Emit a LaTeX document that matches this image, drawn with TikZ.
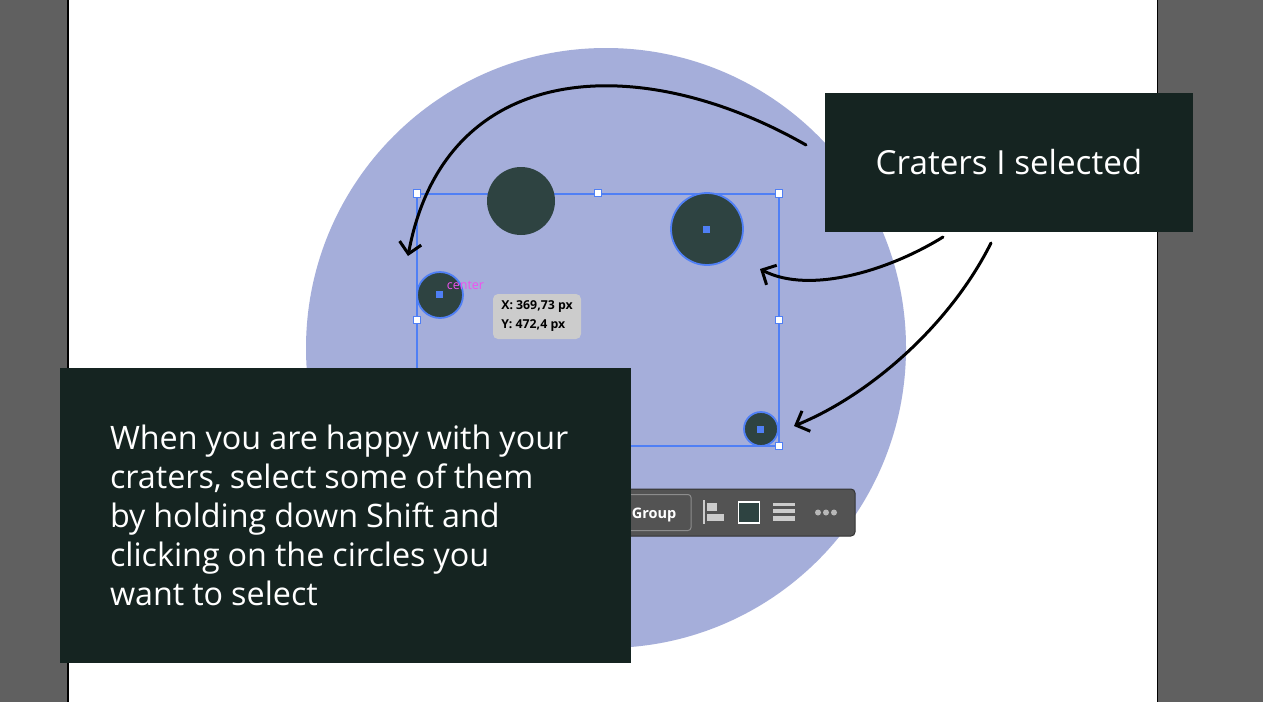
\documentclass[tikz,border=0pt]{standalone}
\usepackage{xcolor}
\usepackage{fontspec}
\setmainfont{Open Sans}
\usepackage{tikz}
\usetikzlibrary{arrows.meta, positioning}

\definecolor{panelgray}{HTML}{606060}
\definecolor{moonblue}{HTML}{A5AEDA}
\definecolor{craterfill}{HTML}{2E4341}
\definecolor{selectblue}{HTML}{4F7FF5}
\definecolor{labelblack}{HTML}{152421}
\definecolor{barfill}{HTML}{535353}
\definecolor{guidepink}{HTML}{F050F0}

\begin{document}
\begin{tikzpicture}[x=1pt, y=-1pt]
\tikzstyle{crater} = [circle, fill=craterfill, inner sep=0pt]
\tikzstyle{picked} = [crater, draw=selectblue, line width=1.8pt]
\tikzstyle{handle} = [rectangle, draw=selectblue, fill=white, line width=1.2pt, minimum size=7.5pt, inner sep=0pt]
\tikzstyle{dot} = [rectangle, fill=selectblue, minimum size=7pt, inner sep=0pt]
\tikzstyle{callout} = [rectangle, fill=labelblack, text=white, inner sep=0pt]
\tikzstyle{arrow} = [line width=3pt, line cap=round, -{Straight Barb[length=11pt, width=22pt, line width=3pt]}]
\tikzstyle{tool} = [rectangle, fill=black!20, inner sep=0pt]
\tikzstyle{tooldot} = [circle, fill=black!28, minimum size=6pt, inner sep=0pt]

\useasboundingbox (0,0) rectangle (1263,702);

% page and side panels
\fill[white] (0,0) rectangle (1263,702);
\fill[panelgray] (0,0) rectangle (68,702);
\fill[panelgray] (1158,0) rectangle (1263,702);
\draw[black, line width=1.5pt] (68,0) -- (68,702);
\draw[black, line width=1.5pt] (1157.5,0) -- (1157.5,702);

% moon
\node (moon) at (606,348) [circle, fill=moonblue, minimum size=600pt, inner sep=0pt] {};

% selection frame
\coordinate (frameNW) at (417,194);
\coordinate (frameSE) at (779,446);
\draw[selectblue, line width=1.4pt] (frameNW) rectangle (frameSE);

% craters
\node (craterA) at (521,201) [crater, minimum size=68pt] {};
\node (craterB) at (707,229) [picked, minimum size=72pt] {};
\node (craterC) at (440,295) [picked, minimum size=46pt] {};
\node (craterD) at (761,429) [picked, minimum size=34pt] {};
\node (dotB) at (706.5,229) [dot] {};
\node (dotC) at (439,294) [dot] {};
\node (dotD) at (760.5,429.5) [dot] {};

\node (hNW) at (417,193.5) [handle] {};
\node (hN) at (598,193) [handle] {};
\node (hNE) at (779,193.5) [handle] {};
\node (hW) at (417,320) [handle] {};
\node (hE) at (779,320) [handle] {};
\node (hSE) at (779,446) [handle] {};

% smart guide and tooltip
\node (center) at (465.5,285) [text=guidepink, font=\fontsize{12.5}{12.5}\selectfont, inner sep=0pt] {center};
\node (tooltip) at (537,316.5) [rectangle, rounded corners=5pt, fill=black!20, minimum width=88pt, minimum height=45pt, inner sep=0pt, align=left, font=\fontsize{12.3}{19}\selectfont\bfseries] {X: 369,73 px\\Y: 472,4 px};

% toolbar
\node (toolbar) at (727,512.5) [rectangle, rounded corners=4pt, fill=barfill, draw=black!80, line width=1pt, minimum width=256pt, minimum height=47pt, inner sep=0pt] {};
\node (groupbtn) at (645,512.5) [rectangle, rounded corners=3pt, draw=black!45, line width=1pt, minimum width=92pt, minimum height=36pt, inner sep=0pt] {};
\node (grouptxt) at (654,515) [text=white, font=\fontsize{14.5}{15}\selectfont\bfseries, inner sep=0pt] {Group};
\fill[black!20] (703,500) rectangle (704.5,524);
\node (alignA) at (712,507) [tool, minimum width=10pt, minimum height=8pt] {};
\node (alignB) at (715.5,517) [tool, minimum width=17pt, minimum height=7pt] {};
\node (swatch) at (749,512.5) [rectangle, fill=craterfill, draw=white, line width=1.2pt, minimum size=21pt, inner sep=0pt] {};
\node (lineA) at (784,504.5) [tool, minimum width=22pt, minimum height=3.5pt] {};
\node (lineB) at (784,511) [tool, minimum width=22pt, minimum height=4pt] {};
\node (lineC) at (784,518) [tool, minimum width=22pt, minimum height=5pt] {};
\node (dotsA) at (818,512.5) [tooldot] {};
\node (dotsB) at (826,512.5) [tooldot] {};
\node (dotsC) at (834,512.5) [tooldot] {};

% callouts
\node (picklabel) at (1009,162.5) [callout, minimum width=368pt, minimum height=139pt, font=\fontsize{33.2}{33}\selectfont] {Craters I selected};
\node (howto) at (345.5,515.5) [callout, minimum width=571pt, minimum height=295pt, text width=471pt, align=left, font=\fontsize{32.3}{39}\selectfont] {\spaceskip=8pt\relax When you are happy with your\\craters, select some of them\\by holding down Shift and\\clicking on the circles you\\want to select};

% arrows
\coordinate (startA) at (806,145);
\coordinate (tipA) at (408,256);
\coordinate (startB) at (943,237);
\coordinate (tipB) at (760,269);
\coordinate (startC) at (991,243);
\coordinate (tipC) at (794,426);
\draw [arrow] (startA) .. controls (640,50) and (445,58) .. (tipA);
\draw [arrow] (startB) .. controls (890,270) and (810,295) .. (tipB);
\draw [arrow] (startC) .. controls (950,325) and (870,395) .. (tipC);

\end{tikzpicture}
\end{document}
